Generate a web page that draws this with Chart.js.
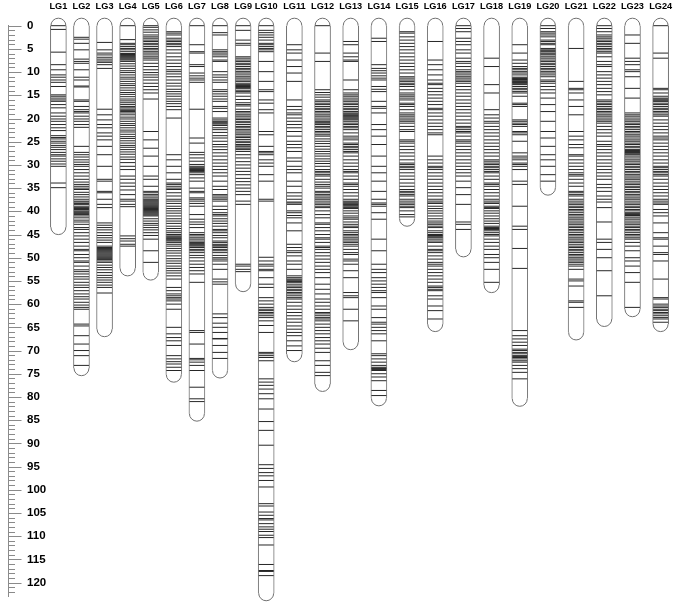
<!DOCTYPE html>
<html>
<head>
<meta charset="utf-8">
<script src="https://cdn.jsdelivr.net/npm/chart.js@4"></script>
<style>
  html, body { margin: 0; padding: 0; background: #ffffff; }
  canvas { display: block; }
</style>
</head>
<body>
<canvas id="c" width="685" height="605"></canvas>
<script>
// ---------- data (cM) ----------
const lgNames = ["LG1","LG2","LG3","LG4","LG5","LG6","LG7","LG8","LG9","LG10","LG11","LG12",
                 "LG13","LG14","LG15","LG16","LG17","LG18","LG19","LG20","LG21","LG22","LG23","LG24"];
const lgLengths = [43.4, 73.8, 65.4, 52.3, 53.2, 75.2, 83.6, 74.3, 55.7, 122.3, 70.8, 77.2,
                   68.2, 80.3, 41.6, 64.3, 48.2, 55.9, 80.4, 34.9, 66.1, 63.2, 61.1, 64.3];
const yTickValues = [0,5,10,15,20,25,30,35,40,45,50,55,60,65,70,75,80,85,90,95,100,105,110,115,120];

const LG1 = [0,0.8,5.7,8.4,9.5,10.6,11.1,11.7,12.2,13.1,14.9,15.2,15.6,16.0,16.3,17.0,17.7,18.8,19.5,20.1,20.6,21.3,22.0,22.6,23.7,24.1,24.4,24.9,25.3,25.8,26.2,26.7,27.3,27.8,28.1,28.7,29.2,29.8,30.3,33.9,34.9];
const LG2 = [2.5,2.9,3.8,5.2,7.2,7.7,8.1,9.5,11.1,11.7,13.0,13.2,16.0,16.3,17.4,18.1,18.5,18.8,19.5,20.1,20.6,21.3,21.9,26.0,27.3,27.8,28.3,28.9,29.4,29.9,30.3,31.0,31.7,32.4,33.1,33.7,34.2,34.6,35.0,35.3,35.9,36.4,36.9,37.4,37.8,38.0,38.3,38.5,38.9,39.2,39.4,39.6,39.9,40.1,40.3,40.5,40.7,41.0,41.4,41.9,42.3,42.8,43.5,43.9,44.6,45.3,46.0,46.7,47.5,48.2,48.5,49.3,50.0,50.7,51.0,51.8,52.6,53.0,53.5,54.1,54.6,55.3,55.9,56.4,57.1,57.8,58.4,58.9,59.6,60.2,60.7,61.1,64.3,64.7,66.8,68.6,70.0,71.1,73.2];
const LG3 = [3.6,5.2,5.9,6.3,6.8,7.2,7.6,7.9,8.4,9.2,18.0,19.2,20.3,21.3,22.0,23.1,23.8,24.6,26.0,27.8,30.3,33.1,33.5,35.7,36.0,37.4,38.5,39.2,42.5,43.0,43.5,44.0,44.6,45.2,45.7,46.2,46.7,47.5,47.8,48.0,48.2,48.4,48.6,48.8,49.0,49.2,49.4,49.6,49.8,50.0,50.2,50.4,50.7,51.0,51.6,52.1,52.6,53.2,53.8,54.3,54.8,55.3,55.9,56.4,57.6];
const LG4 = [0,3.0,3.8,4.1,4.5,4.9,5.2,5.6,6.0,6.2,6.4,6.6,6.8,7.0,7.2,7.4,7.7,8.2,8.7,9.2,9.7,10.1,10.6,11.1,11.5,12.0,12.5,12.9,13.4,13.9,14.4,14.8,15.3,15.8,16.2,16.6,17.0,17.4,17.7,18.0,18.3,18.5,18.8,19.2,19.7,20.1,20.6,21.1,21.5,22.0,22.5,22.9,23.4,23.9,24.3,24.8,25.3,25.8,26.2,26.7,27.2,27.7,28.3,28.8,29.5,30.3,31.0,32.4,33.1,33.9,34.6,35.4,36.4,37.4,37.8,38.5,39.0,45.3,45.9,46.4,47.1,47.5];
const LG5 = [0,0.35,0.9,1.4,2.0,2.4,2.7,3.1,3.4,3.8,4.1,4.5,4.9,5.2,5.6,5.9,6.3,6.7,7.0,7.4,8.1,8.8,9.5,10.1,10.6,11.1,11.7,12.4,13.1,13.8,14.5,15.8,22.8,24.6,26.4,28.1,30.3,32.4,33.1,34.6,35.7,36.0,36.4,36.7,37.1,37.4,37.6,37.8,38.0,38.2,38.4,38.6,38.8,39.0,39.2,39.4,39.6,39.8,40.0,40.2,40.4,40.6,40.8,41.0,41.6,42.1,42.6,43.0,43.5,44.0,44.6,45.2,46.0,48.5,51.0];
const LG6 = [1.3,1.6,2.0,2.7,3.1,3.4,3.8,4.1,4.5,5.2,5.9,6.7,7.4,8.1,8.8,9.5,9.9,10.4,11.0,11.7,12.4,13.0,13.7,14.2,14.7,15.2,15.8,16.3,16.8,17.4,18.1,19.9,27.8,28.9,30.3,31.7,33.1,33.9,34.2,34.6,35.0,35.3,36.0,36.7,37.4,37.8,38.3,38.9,39.4,39.9,40.4,41.0,41.6,42.1,42.6,43.2,43.7,44.2,44.6,45.0,45.3,45.5,45.7,45.9,46.0,46.2,46.4,46.7,47.1,47.5,48.0,48.5,49.0,49.6,50.2,50.7,51.2,51.8,52.3,52.8,53.3,53.9,54.6,56.4,57.1,57.8,58.2,58.6,58.9,59.3,60.0,61.1,65.0,66.4,67.2,67.9,68.9,71.1,71.8,72.4,72.9,73.6,74.3];
const LG7 = [0,4.1,5.6,5.9,8.4,8.8,10.2,10.8,11.3,11.7,12.2,18.0,24.2,25.3,27.3,27.8,28.5,29.2,29.9,30.3,30.6,30.8,31.0,31.2,31.4,31.7,32.1,32.8,33.5,35.0,35.7,36.0,37.1,37.4,37.8,38.3,38.9,40.7,41.7,42.3,42.8,43.5,44.6,45.0,45.3,45.7,46.0,46.4,46.7,46.9,47.1,47.3,47.5,47.8,48.2,48.5,48.9,49.5,50.0,50.7,51.4,52.1,52.8,53.5,55.3,65.7,66.1,68.6,71.7,72.0,72.5,73.2,74.3,77.9,80.4,81.0];
const LG8 = [0,1.5,2.0,5.2,5.6,5.9,6.3,6.7,7.4,7.7,9.9,10.6,11.1,11.7,12.2,13.8,14.2,14.7,15.2,15.8,16.3,17.4,17.8,18.5,19.9,20.3,20.6,20.8,21.0,21.2,21.5,22.0,22.4,23.0,23.7,24.2,24.9,25.6,26.1,26.7,27.4,28.1,28.9,29.6,30.3,31.0,31.7,32.4,33.5,34.6,35.3,36.4,36.7,37.1,37.4,37.8,38.9,39.6,40.3,40.7,41.0,41.6,42.1,42.6,43.2,43.9,44.2,44.6,45.2,45.7,46.4,46.7,47.1,47.3,47.5,47.8,48.2,48.5,48.9,49.5,50.0,50.3,50.7,51.4,52.5,54.6,55.2,55.7,62.1,62.9,64.1,65.0,66.1,67.4,67.5,68.9,70.4,71.7];
const LG9 = [0,1.0,3.1,3.8,4.2,6.7,7.0,7.4,7.7,8.1,8.4,8.8,9.2,9.5,9.9,10.2,10.6,11.0,11.3,11.7,12.0,12.4,12.7,12.9,13.1,13.3,13.5,13.9,14.2,14.5,15.2,15.9,16.6,17.0,17.3,18.0,18.5,18.8,19.2,19.5,19.9,20.2,20.6,20.9,21.3,21.7,22.0,22.4,22.7,23.1,23.4,23.8,24.1,24.5,24.9,25.2,25.6,25.9,26.1,26.4,26.7,27.1,27.8,28.5,29.3,30.0,30.7,31.4,32.1,32.9,33.6,34.3,35.0,35.7,36.4,37.8,38.5,51.4,51.8,52.5,53.0];
const LG10 = [0,1.0,1.5,2.0,2.5,3.1,3.8,4.1,4.5,4.9,5.2,5.6,7.7,9.9,12.0,13.8,14.2,16.0,16.7,18.1,18.8,22.8,23.5,26.0,27.1,27.4,27.8,28.9,29.6,30.3,32.1,33.5,37.4,37.8,49.9,50.7,51.4,51.8,52.5,52.8,54.3,55.7,56.4,58.6,59.3,60.0,60.7,61.1,61.4,61.8,62.1,62.5,62.9,63.6,64.6,66.1,70.4,70.7,71.1,71.5,72.2,76.1,76.8,77.5,78.3,79.3,80.4,82.6,85.3,87.2,90.4,94.6,95.4,96.3,97.0,98.0,99.4,103.0,103.5,104.8,105.5,106.2,106.5,107.3,108.0,108.5,109.0,109.8,110.3,111.9,116.1,117.4,117.6,118.5];
const LG11 = [4.1,5.2,5.9,7.4,8.8,10.2,12.0,16.0,17.4,18.1,18.8,19.2,19.9,20.6,21.3,22.0,22.8,23.8,24.9,25.6,26.3,27.1,28.5,29.2,30.3,31.0,31.7,33.5,34.6,36.0,36.7,37.4,38.0,38.2,38.5,39.9,40.3,40.9,41.4,42.5,44.2,47.1,47.8,48.5,48.9,49.6,50.7,51.4,52.5,53.9,54.3,54.6,54.8,55.0,55.1,55.3,55.7,56.1,56.4,56.8,57.1,57.5,57.8,58.2,58.6,58.9,59.6,60.4,61.1,61.8,62.5,63.2,63.9,64.7,65.4,66.1,66.8,67.9,69.0,70.0];
const LG12 = [0,5.9,7.7,13.8,14.4,14.9,15.4,16.0,16.3,16.7,17.0,17.4,17.8,18.1,18.5,18.8,19.2,19.5,19.9,20.3,20.6,20.8,21.0,21.3,21.7,22.0,22.4,22.8,23.1,23.5,23.8,24.4,24.9,25.4,26.0,26.6,27.1,27.6,28.1,28.7,29.2,29.7,30.3,31.0,31.4,31.7,32.1,32.4,33.1,33.7,34.2,34.6,35.0,35.7,36.0,36.4,36.7,37.1,37.4,37.8,38.2,38.5,38.9,39.2,39.9,40.7,41.4,42.5,42.8,43.5,44.2,45.0,45.7,46.0,46.7,47.5,47.8,48.2,48.9,49.6,50.3,51.0,51.8,52.5,53.2,54.3,55.7,56.8,57.8,58.9,59.6,60.4,61.1,61.8,62.1,62.5,62.9,63.2,63.6,64.3,65.0,65.7,66.4,67.2,67.9,68.6,69.5,70.4,72.2,73.2,74.7,75.4];
const LG13 = [3.4,4.1,5.9,6.7,7.4,7.7,11.7,13.8,14.5,14.9,15.2,15.6,16.0,16.3,16.7,17.0,17.4,17.8,18.1,18.5,18.8,19.0,19.2,19.4,19.5,19.7,19.9,20.1,20.3,20.6,21.0,21.3,21.7,22.0,22.4,23.1,23.8,24.2,24.6,25.3,25.6,26.0,26.3,26.7,27.1,27.4,28.1,28.9,29.6,30.3,31.0,31.4,31.7,32.4,33.1,33.9,34.2,34.6,35.3,36.0,36.7,37.4,37.8,38.0,38.2,38.4,38.5,38.7,38.9,39.2,39.4,39.9,40.4,41.0,41.4,41.7,42.3,42.8,43.2,43.5,44.2,44.6,45.0,45.3,45.7,46.0,46.4,46.7,47.1,47.5,48.2,48.9,49.3,50.3,50.7,51.4,52.8,54.3,57.5,58.2,58.6,61.1,63.6];
const LG14 = [2.7,3.4,8.4,9.2,9.7,10.2,10.8,11.3,11.7,13.1,13.7,14.2,16.3,17.4,17.8,18.8,21.3,22.4,23.8,25.6,28.1,30.3,31.7,33.5,35.7,37.4,38.2,38.5,38.9,40.3,41.7,46.0,48.5,51.4,52.5,53.2,54.3,55.0,55.7,56.4,57.1,57.5,58.6,60.4,61.1,62.9,63.9,64.3,65.0,65.7,66.4,67.9,70.7,71.1,71.8,72.5,73.2,73.6,73.8,73.9,74.1,74.3,75.0,75.7,76.5,78.6,79.7];
const LG15 = [1.3,1.6,2.4,3.1,3.8,4.5,5.2,5.9,6.7,7.4,8.1,8.8,9.5,10.2,11.0,11.3,11.7,12.0,12.4,12.7,13.1,13.8,14.5,14.9,15.2,15.6,16.0,16.7,17.0,17.4,18.1,18.8,19.2,19.5,19.9,20.3,20.6,21.0,21.7,22.4,22.8,24.6,24.9,25.3,26.0,26.7,27.4,28.1,28.9,29.6,29.9,30.3,30.6,31.0,31.7,32.4,33.1,33.9,34.6,35.3,35.7,36.0,36.4,36.7,37.4,37.8,38.2,38.5,38.9,39.2,39.9,40.7,41.2];
const LG16 = [3.4,7.4,8.4,9.5,10.6,11.7,12.4,12.7,13.5,14.2,14.9,15.6,16.3,17.0,17.8,18.1,18.8,19.5,20.3,21.0,21.7,22.4,23.1,23.5,28.1,28.9,29.6,30.3,30.6,31.0,31.7,32.4,33.1,33.9,34.6,35.3,36.0,36.7,37.4,37.8,38.2,38.3,38.9,39.4,39.9,40.4,41.0,41.6,42.1,42.5,42.8,43.2,43.5,44.2,44.6,45.0,45.2,45.3,45.5,45.7,46.0,46.4,46.7,47.5,48.2,48.5,48.9,49.6,50.3,51.0,51.4,51.8,52.5,53.2,53.9,54.6,55.3,56.1,56.4,56.8,57.1,58.2,58.9,60.4,61.4,63.2];
const LG17 = [0,0.6,1.3,2.7,3.4,4.1,5.2,5.9,7.0,7.7,8.1,8.8,9.5,9.9,10.2,10.6,11.0,11.3,11.7,12.0,12.4,13.1,13.8,14.5,15.2,16.0,16.7,17.4,18.1,18.8,19.5,20.3,21.0,21.7,22.0,22.4,22.8,23.1,23.8,24.6,24.9,25.3,26.0,26.7,27.4,28.1,28.9,29.6,30.3,31.0,31.7,32.4,33.5,34.9,36.4,38.5,42.3,42.8,43.9];
const LG18 = [7.0,8.8,12.7,14.5,18.1,19.2,19.9,20.6,21.0,21.7,22.4,23.1,23.8,24.6,25.3,26.0,26.7,27.4,28.1,28.9,29.2,29.6,29.9,30.3,30.6,31.0,31.4,31.7,32.4,33.1,33.9,34.2,34.6,35.3,36.0,36.7,37.4,37.8,38.2,38.3,38.9,39.2,39.4,39.9,40.4,41.0,41.6,42.1,42.6,43.2,43.5,43.7,43.9,44.2,44.6,45.0,45.3,46.0,46.7,47.5,48.2,49.3,50.0,51.0,52.5,55.3];
const LG19 = [4.1,5.9,7.4,8.1,8.8,9.2,9.5,9.9,10.2,10.6,11.1,11.3,11.4,11.6,11.7,11.9,12.0,12.2,12.3,12.5,12.7,13.1,13.5,13.8,14.2,14.5,15.2,16.7,17.0,17.4,20.3,20.6,21.0,21.3,21.7,22.8,23.1,23.5,24.9,27.4,28.1,28.5,28.9,29.6,29.9,30.3,31.0,33.5,34.2,38.9,43.2,43.9,48.0,52.3,65.7,66.8,67.5,68.2,68.9,69.7,70.0,70.4,70.7,71.1,71.3,71.5,71.8,72.2,72.5,73.2,73.9,74.7,76.1];
const LG20 = [0,0.6,1.3,1.6,2.0,2.4,3.1,3.4,3.8,4.1,4.9,5.2,5.4,5.6,5.9,6.1,6.3,6.7,7.0,7.4,7.7,8.1,8.4,8.8,9.2,9.5,9.9,10.2,10.6,11.0,11.7,12.0,12.4,13.1,13.8,14.5,15.6,17.0,18.5,20.6,22.8,24.2,26.0,27.8,28.9,30.3,32.1,33.5];
const LG21 = [4.9,12.0,13.5,13.8,14.5,16.0,17.4,19.2,22.8,23.8,24.6,25.6,26.3,27.8,28.1,28.9,29.6,30.3,31.0,31.7,32.1,32.4,33.1,33.9,34.6,35.7,36.0,36.4,36.7,37.4,37.8,38.2,38.5,38.9,39.2,39.6,39.9,40.3,40.7,41.0,41.4,41.7,42.1,42.5,42.8,43.2,43.5,43.9,44.2,44.6,45.0,45.3,45.7,46.0,46.4,46.7,47.1,47.5,47.8,48.2,48.5,48.9,49.3,49.6,50.0,50.3,50.7,51.0,51.4,51.8,52.5,54.6,55.0,56.1,59.3,59.6,60.7];
const LG22 = [0,0.6,1.3,2.0,2.4,2.7,3.1,3.4,3.8,4.1,4.5,4.9,5.2,5.6,5.9,6.7,7.7,8.4,8.8,9.9,10.6,11.3,12.0,12.7,13.5,14.2,14.9,16.0,16.3,16.7,17.0,17.4,17.8,18.1,18.5,18.8,19.2,19.5,19.9,20.3,20.6,21.0,21.7,22.4,23.1,23.8,24.9,25.6,26.0,26.7,27.4,28.1,28.9,29.6,30.3,31.0,31.7,32.4,33.1,34.2,34.9,35.7,36.7,37.4,38.0,39.2,42.3,46.0,46.7,48.2,50.0,52.8,58.2];
const LG23 = [2.0,3.8,7.0,7.7,8.4,9.5,9.9,11.0,13.5,15.6,18.8,19.2,19.5,19.9,20.3,20.6,21.0,21.3,21.7,22.0,22.4,22.8,23.1,23.5,23.8,24.2,24.6,24.9,25.3,25.6,26.0,26.3,26.7,26.9,27.1,27.3,27.4,27.6,27.8,28.1,28.5,28.9,29.2,29.6,29.9,30.3,30.6,31.0,31.4,31.7,32.1,32.4,32.8,33.1,33.5,33.9,34.2,34.6,34.9,35.3,35.7,36.0,36.4,36.7,37.1,37.4,37.8,38.2,38.5,38.9,39.2,39.6,39.9,40.3,40.5,40.7,40.9,41.0,41.4,41.7,42.1,42.5,42.8,43.2,43.5,43.9,44.2,44.6,45.0,45.3,45.7,46.0,46.7,47.5,48.5,50.0,50.7,51.8,53.2,55.3,60.7];
const LG24 = [0,5.9,7.0,13.5,13.8,14.5,15.2,15.6,15.8,16.0,16.2,16.3,16.7,17.0,17.4,17.8,18.1,18.5,18.8,19.2,19.5,20.3,21.0,21.7,22.4,23.1,23.8,24.2,24.6,25.3,26.0,26.7,27.4,28.1,28.9,29.6,30.3,30.6,31.0,31.4,31.7,32.1,32.4,33.1,33.9,34.6,35.3,36.0,36.7,37.4,37.8,38.2,38.5,39.6,40.3,41.0,42.5,44.6,45.7,46.0,47.5,48.9,49.3,50.7,54.6,58.6,58.9,60.0,60.4,60.7,61.1,61.4,61.8,62.1,62.5,62.9,63.2,63.9];

const groupMarkers = [LG1,LG2,LG3,LG4,LG5,LG6,LG7,LG8,LG9,LG10,LG11,LG12,
                      LG13,LG14,LG15,LG16,LG17,LG18,LG19,LG20,LG21,LG22,LG23,LG24];

// ---------- layout (slot spacing follows label width, as in the original map) ----------
const groupX = [];
(function () { let acc = 0; lgNames.forEach(n => { groupX.push(acc); acc += n.length + 1.54; }); })();
const PX_PER_UNIT = 5.2, FIRST_PX = 53, AREA_LEFT = 2, AREA_RIGHT = 685;
const xMin = -(FIRST_PX - AREA_LEFT) / PX_PER_UNIT;
const xMax = xMin + (AREA_RIGHT - AREA_LEFT) / PX_PER_UNIT;

const FONT = "'Liberation Sans', Arial, Helvetica, sans-serif";
Chart.defaults.font.family = FONT;
const outlineColor = '#707070';
const rulerColor = '#8a8a8a';
const markerColor = '#262626';

const markerPoints = [];
groupMarkers.forEach((arr, i) => arr.forEach(v => markerPoints.push({ x: groupX[i], y: v })));

const capsPlugin = {
  id: 'capsAndRuler',
  afterDatasetsDraw(chart) {
    const { ctx, chartArea } = chart;
    const xs = chart.scales.x, ys = chart.scales.y;
    ctx.save();
    ctx.strokeStyle = outlineColor;
    ctx.lineWidth = 1;
    lgLengths.forEach((L, i) => {
      const cx = xs.getPixelForValue(groupX[i]);
      const yTop = ys.getPixelForValue(0);
      const yBot = ys.getPixelForValue(L);
      ctx.beginPath(); ctx.arc(cx, yTop, 7.5, Math.PI, 2 * Math.PI); ctx.stroke();
      ctx.beginPath(); ctx.arc(cx, yBot, 7.5, 0, Math.PI); ctx.stroke();
    });
    // ruler ticks (major every 5 cM, minor every 1 cM)
    ctx.strokeStyle = rulerColor;
    const ax = chartArea.left;
    for (let v = 0; v <= 122; v++) {
      const py = Math.round(ys.getPixelForValue(v)) + 0.5;
      const len = v % 5 === 0 ? 13 : 6.5;
      ctx.beginPath(); ctx.moveTo(ax, py); ctx.lineTo(ax + len, py); ctx.stroke();
    }
    ctx.restore();
  }
};

new Chart(document.getElementById('c'), {
  type: 'bar',
  data: {
    datasets: [
      {
        type: 'scatter',
        data: markerPoints,
        pointStyle: 'line',
        pointRadius: 7.5,
        pointBorderWidth: 1,
        pointBorderColor: markerColor,
        pointBackgroundColor: markerColor,
        clip: false,
        order: 1
      },
      {
        type: 'bar',
        data: lgLengths.map((L, i) => ({ x: groupX[i], y: [0, L] })),
        backgroundColor: '#ffffff',
        borderColor: outlineColor,
        borderWidth: { left: 1, right: 1, top: 0, bottom: 0 },
        borderSkipped: false,
        barThickness: 16,
        clip: false,
        order: 2
      }
    ]
  },
  options: {
    responsive: false,
    animation: false,
    events: [],
    layout: { padding: { left: 1, right: 0, top: 0, bottom: 6.7 } },
    plugins: { legend: { display: false }, tooltip: { enabled: false } },
    scales: {
      x: {
        type: 'linear',
        position: 'top',
        min: xMin, max: xMax,
        offset: false,
        grid: { display: false, drawTicks: false },
        border: { display: false },
        afterBuildTicks: s => { s.ticks = groupX.map(v => ({ value: v })); },
        afterFit: s => { s.height = 25.7; s.paddingLeft = 0; s.paddingRight = 0; },
        ticks: {
          autoSkip: false, maxRotation: 0, minRotation: 0, padding: 13.3,
          color: '#000000',
          font: { size: 9.2, weight: 'bold' },
          callback: (v, i) => lgNames[i]
        }
      },
      y: {
        type: 'linear',
        position: 'left',
        reverse: true,
        min: 0, max: 123,
        grid: { display: false, drawTicks: false },
        border: { display: true, color: rulerColor, width: 1 },
        afterBuildTicks: s => { s.ticks = yTickValues.map(v => ({ value: v })); },
        afterFit: s => { s.width = 1; s.paddingTop = 0; s.paddingBottom = 0; },
        ticks: {
          mirror: true, padding: 18.5,
          color: '#000000',
          font: { size: 11.5, weight: 'bold' }
        }
      }
    }
  },
  plugins: [capsPlugin]
});
</script>
</body>
</html>
